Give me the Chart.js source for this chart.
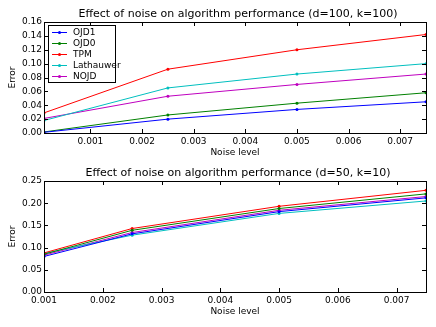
<!DOCTYPE html>
<html>
<head>
<meta charset="utf-8">
<script src="https://cdn.jsdelivr.net/npm/chart.js@4"></script>
<style>
  html, body { margin: 0; padding: 0; background: #fff; }
  #wrap { position: relative; width: 436px; height: 327px; }
  canvas { position: absolute; left: 0; }
  #topChart { top: 0; }
  #botChart { top: 160px; }
</style>
</head>
<body>
<div id="wrap">
  <canvas id="topChart" width="436" height="160"></canvas>
  <canvas id="botChart" width="436" height="167"></canvas>
</div>
<script>
// series names and colours (matplotlib classic b, g, r, c, m)
const seriesNames = ['OJD1', 'OJD0', 'TPM', 'Lathauwer', 'NOJD'];
const seriesColors = ['#0000ff', '#008000', '#ff0000', '#00bfbf', '#bf00bf'];

// top panel: d=100, k=100
const noiseTop = [0.0001, 0.0025, 0.005, 0.0075];
const ojd1Top = [0.001, 0.020, 0.034, 0.045];
const ojd0Top = [0.0015, 0.026, 0.043, 0.058];
const tpmTop = [0.029, 0.092, 0.120, 0.142];
const lathTop = [0.018, 0.065, 0.085, 0.100];
const nojdTop = [0.021, 0.053, 0.070, 0.085];

// bottom panel: d=50, k=10
const noiseBot = [0.001, 0.0025, 0.005, 0.0075];
const ojd1Bot = [0.080, 0.131, 0.181, 0.212];
const ojd0Bot = [0.085, 0.139, 0.188, 0.221];
const tpmBot = [0.088, 0.143, 0.193, 0.229];
const lathBot = [0.087, 0.128, 0.177, 0.205];
const nojdBot = [0.083, 0.134, 0.184, 0.215];

const FONT = 'DejaVu Sans';
Chart.defaults.font.family = FONT;
Chart.defaults.color = '#000';

function makeDatasets(xs, rows) {
    return rows.map((vals, i) => ({
        label: seriesNames[i],
        data: xs.map((x, j) => ({ x: x, y: vals[j] })),
        borderColor: seriesColors[i],
        backgroundColor: seriesColors[i],
        borderWidth: 1,
        pointRadius: 1.5,
        pointBorderWidth: 0,
        tension: 0
    }));
}

// box around the axes plus inward tick marks on all four sides
const frameTicks = {
    id: 'frameTicks',
    afterDatasetsDraw(chart) {
        const { ctx, chartArea: a, scales: { x, y } } = chart;
        ctx.save();
        ctx.strokeStyle = '#000';
        ctx.lineWidth = 1;
        ctx.beginPath();
        x.ticks.forEach(t => {
            const px = Math.round(x.getPixelForValue(t.value)) + 0.5;
            ctx.moveTo(px, a.bottom); ctx.lineTo(px, a.bottom - 4);
            ctx.moveTo(px, a.top); ctx.lineTo(px, a.top + 4);
        });
        y.ticks.forEach(t => {
            const py = Math.round(y.getPixelForValue(t.value)) + 0.5;
            ctx.moveTo(a.left, py); ctx.lineTo(a.left + 4, py);
            ctx.moveTo(a.right, py); ctx.lineTo(a.right - 4, py);
        });
        ctx.stroke();
        ctx.strokeRect(Math.round(a.left) + 0.5, Math.round(a.top) + 0.5,
            Math.round(a.right - a.left), Math.round(a.bottom - a.top));
        ctx.restore();
    }
};

// title centred over the axes, like matplotlib does it
function axesTitle(text, cy) {
    return {
        id: 'axesTitle',
        afterDraw(chart) {
            const { ctx, chartArea: a } = chart;
            ctx.save();
            ctx.font = '11px ' + FONT;
            ctx.fillStyle = '#000';
            ctx.textAlign = 'center';
            ctx.textBaseline = 'middle';
            ctx.fillText(text, (a.left + a.right) / 2 + 3, cy);
            ctx.restore();
        }
    };
}

// matplotlib-like legend box in the upper left of the axes
const boxLegend = {
    id: 'boxLegend',
    afterDraw(chart) {
        const { ctx, chartArea: a } = chart;
        const x0 = a.left + 4, y0 = a.top + 3;
        const rowH = 11;
        const sets = chart.data.datasets;
        ctx.save();
        ctx.fillStyle = '#fff';
        ctx.fillRect(x0, y0, 67, 57);
        ctx.strokeStyle = '#000';
        ctx.lineWidth = 1;
        ctx.strokeRect(x0 + 0.5, y0 + 0.5, 67, 57);
        ctx.font = '9px ' + FONT;
        ctx.textBaseline = 'middle';
        sets.forEach((ds, i) => {
            const cy = y0 + 7.5 + i * rowH;
            ctx.strokeStyle = ds.borderColor;
            ctx.beginPath();
            ctx.moveTo(x0 + 4, cy); ctx.lineTo(x0 + 19, cy);
            ctx.stroke();
            ctx.fillStyle = ds.borderColor;
            ctx.beginPath();
            ctx.arc(x0 + 11.5, cy, 1.5, 0, Math.PI * 2);
            ctx.fill();
            ctx.fillStyle = '#000';
            ctx.fillText(ds.label, x0 + 25, cy);
        });
        ctx.restore();
    }
};

function makeChart(id, xs, rows, xMin, xMax, yMax, yStep, topPad, xHeight, xTitlePad, plugins) {
    return new Chart(document.getElementById(id), {
        type: 'line',
        data: { datasets: makeDatasets(xs, rows) },
        options: {
            responsive: false,
            animation: false,
            layout: { padding: { left: 0, right: 10, top: topPad, bottom: 0 } },
            plugins: {
                legend: { display: false },
                tooltip: { enabled: false },
                title: { display: false }
            },
            scales: {
                x: {
                    type: 'linear', min: xMin, max: xMax,
                    grid: { display: false, drawTicks: false },
                    border: { display: false },
                    ticks: {
                        stepSize: 0.001, includeBounds: false, padding: 3,
                        maxRotation: 0, font: { size: 9 },
                        callback: v => v.toFixed(3)
                    },
                    title: { display: true, text: 'Noise level', font: { size: 9 }, padding: { top: 0, bottom: xTitlePad } },
                    afterFit: s => { s.height = xHeight; }
                },
                y: {
                    min: 0, max: yMax,
                    grid: { display: false, drawTicks: false },
                    border: { display: false },
                    ticks: {
                        stepSize: yStep, padding: 2, font: { size: 9 },
                        callback: v => v.toFixed(2)
                    },
                    title: { display: true, text: 'Error', font: { size: 9 }, padding: { top: 7.5, bottom: 0 } },
                    afterFit: s => { s.width = 44; }
                }
            }
        },
        plugins: plugins
    });
}

makeChart('topChart', noiseTop, [ojd1Top, ojd0Top, tpmTop, lathTop, nojdTop],
    0.0001, 0.0075, 0.16, 0.02, 22, 27, 2,
    [frameTicks, boxLegend, axesTitle('Effect of noise on algorithm performance (d=100, k=100)', 14)]);

makeChart('botChart', noiseBot, [ojd1Bot, ojd0Bot, tpmBot, lathBot, nojdBot],
    0.001, 0.0075, 0.25, 0.05, 21, 35, 10,
    [frameTicks, axesTitle('Effect of noise on algorithm performance (d=50, k=10)', 12.7)]);
</script>
</body>
</html>
